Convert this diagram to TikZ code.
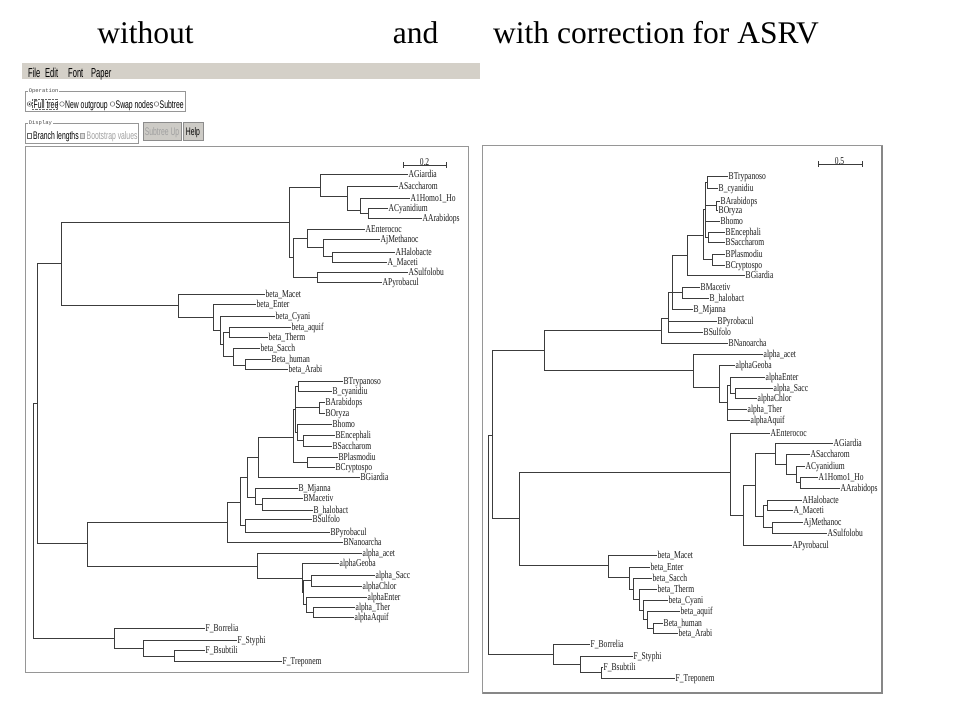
\documentclass[tikz,border=0pt]{standalone}
\usepackage{fontspec}
\setmainfont{Liberation Serif}
\newfontfamily\taxfont[FakeStretch=0.72]{Liberation Serif}
\newfontfamily\guifont[FakeStretch=0.62]{Liberation Sans}
\newfontfamily\menufont[FakeStretch=0.58]{Liberation Sans}
\newfontfamily\boxfont{Liberation Mono}
\definecolor{hbranch}{RGB}{60,60,60}
\definecolor{hframe}{RGB}{150,150,150}
\definecolor{hshadow}{RGB}{135,135,135}
\definecolor{hbar}{RGB}{212,208,200}
\definecolor{hbutton}{RGB}{205,203,198}
\definecolor{hdim}{RGB}{160,160,160}
\tikzset{
  branch/.style={draw=hbranch, line width=0.9pt},
  taxon/.style={anchor=base west, inner sep=0pt, xshift=0.5pt, yshift=-3.5pt, text=black!90, font=\taxfont\fontsize{10.5}{12}\selectfont},
  heading/.style={anchor=base, inner sep=0pt, font=\fontsize{31.5}{36}\selectfont},
  menu/.style={anchor=base west, inner sep=0pt, font=\menufont\fontsize{13}{15}\selectfont},
  gui/.style={anchor=base west, inner sep=0pt, font=\guifont\fontsize{11}{13}\selectfont},
  boxtitle/.style={anchor=west, inner sep=0.6pt, fill=white, text=black!70, font=\boxfont\fontsize{5.5}{6}\selectfont},
  groupbox/.style={draw=hframe, line width=0.8pt},
  radio/.style={draw=black!60, fill=white, line width=0.5pt},
  button/.style={draw=black!45, fill=hbutton, line width=0.6pt},
}
\newcommand{\taxon}[3]{\coordinate (#1) at (#2); \node[taxon] (#1-l) at (#1) {#3};}

\begin{document}
\begin{tikzpicture}[x=1pt, y=-1pt]
\useasboundingbox (0,0) rectangle (960,720);
\fill[white] (0,0) rectangle (960,720);

\node[heading] (tWithout) at (145.5,43) {without};
\node[heading] (tAnd) at (415.5,43) {and};
\node[heading] (tWith) at (656,43) {with correction for ASRV};

% program window
\fill[hbar] (22,63) rectangle (480,79);
\node[menu] (mFile) at (28,77) {File};
\node[menu] (mEdit) at (45,77) {Edit};
\node[menu] (mFont) at (68,77) {Font};
\node[menu] (mPaper) at (91,77) {Paper};

\draw[groupbox] (25,91) rectangle (185,111);
\node[boxtitle] (gOper) at (28,91) {Operation};
\draw[radio] (29.5,104) circle (2.3);
\fill[black!80] (29.5,104) circle (1);
\draw[black!60, line width=0.4pt, densely dotted] (32.5,99) rectangle (57,109.5);
\node[gui] (oFull) at (33.5,108) {Full tree};
\draw[radio] (62,104) circle (2.3);
\node[gui] (oNew) at (65,108) {New outgroup};
\draw[radio] (112.5,104) circle (2.3);
\node[gui] (oSwap) at (115.5,108) {Swap nodes};
\draw[radio] (156.5,104) circle (2.3);
\node[gui] (oSub) at (159.5,108) {Subtree};

\draw[groupbox] (25,123) rectangle (138,143);
\node[boxtitle] (gDisp) at (28,123) {Display};
\draw[radio] (27,133.5) rectangle (31.5,138.5);
\node[gui] (dBranch) at (33,139.5) {Branch lengths};
\draw[draw=hdim, fill=black!15, line width=0.5pt] (80,133.5) rectangle (84.5,138.5);
\node[gui, text=hdim] (dBoot) at (86.5,139.5) {Bootstrap values};

\draw[button] (143,122) rectangle (181,140);
\node[gui, anchor=base, text=hdim] (bSubUp) at (162,135) {Subtree Up};
\draw[button] (183,122) rectangle (203,140);
\node[gui, anchor=base] (bHelp) at (193,135) {Help};

\draw[hframe, line width=0.9pt] (25,146) rectangle (468,672);
\draw[hframe, line width=0.9pt] (482,145) rectangle (882,693);
\draw[hshadow, line width=2pt] (483,693) -- (882,693) -- (882,146);

% left tree
\coordinate (lScaleL) at (403,165);
\coordinate (lScaleR) at (446,165);
\node[taxon, anchor=center, xshift=0pt, yshift=0pt] (lScale) at (424,159) {0.2};
\draw[branch, line width=0.7pt] ([yshift=3pt]lScaleL) -- ([yshift=-3pt]lScaleL) (lScaleL) -- (lScaleR) ([yshift=3pt]lScaleR) -- ([yshift=-3pt]lScaleR);

\coordinate (lRoot) at (33,403);
\coordinate (lTop) at (37,403);
\coordinate (lUp) at (61,263);
\coordinate (lA) at (289,222);
\coordinate (lA1) at (320,187);
\coordinate (lA2) at (347,196);
\coordinate (lA3) at (360,210);
\coordinate (lA4) at (368,213);
\coordinate (lA5) at (293,257);
\coordinate (lA6) at (307,238);
\coordinate (lA7) at (323,247);
\coordinate (lA8) at (332,256);
\coordinate (lA9) at (317,277);
\coordinate (lBeta) at (178,305);
\coordinate (lBeta1) at (213,317);
\coordinate (lBeta2) at (220,330);
\coordinate (lBeta3) at (223,344);
\coordinate (lBeta4) at (229,332);
\coordinate (lBeta5) at (233,356);
\coordinate (lBeta6) at (245,365);
\coordinate (lLow) at (87,543);
\coordinate (lB) at (227,522);
\coordinate (lB1) at (240,502);
\coordinate (lB2) at (247,477);
\coordinate (lB3) at (245,525);
\coordinate (lB4) at (258,457);
\coordinate (lB5) at (255,497);
\coordinate (lB6) at (262,504);
\coordinate (lB7) at (293,437);
\coordinate (lB8) at (295,409);
\coordinate (lB9) at (307,462);
\coordinate (lB10) at (298,386);
\coordinate (lB11) at (319,407);
\coordinate (lB12) at (297,432);
\coordinate (lB13) at (303,440);
\coordinate (lAl) at (257,566);
\coordinate (lAl1) at (302,578);
\coordinate (lAl2) at (303,592);
\coordinate (lAl3) at (311,580);
\coordinate (lAl4) at (306,604);
\coordinate (lAl5) at (313,612);
\coordinate (lF) at (114,638);
\coordinate (lF1) at (143,648);
\coordinate (lF2) at (174,656);

\taxon{lAGia}{408,174}{AGiardia}
\taxon{lASac}{398,186}{ASaccharom}
\taxon{lAHom}{410,198}{A1Homo1\_Ho}
\taxon{lACya}{388,208}{ACyanidium}
\taxon{lAAra}{422,218}{AArabidops}
\taxon{lAEnt}{365,229}{AEnterococ}
\taxon{lAMet}{380,239}{AjMethanoc}
\taxon{lAHal}{395,252}{AHalobacte}
\taxon{lAMac}{387,262}{A\_Maceti}
\taxon{lASul}{408,272}{ASulfolobu}
\taxon{lAPyr}{382,282}{APyrobacul}
\taxon{lbMac}{265,294}{beta\_Macet}
\taxon{lbEnt}{256,304}{beta\_Enter}
\taxon{lbCya}{275,316}{beta\_Cyani}
\taxon{lbAqu}{291,327}{beta\_aquif}
\taxon{lbThe}{268,337}{beta\_Therm}
\taxon{lbSac}{260,348}{beta\_Sacch}
\taxon{lbHum}{271,359}{Beta\_human}
\taxon{lbAra}{288,369}{beta\_Arabi}
\taxon{lBTry}{343,381}{BTrypanoso}
\taxon{lBCya}{332,391}{B\_cyanidiu}
\taxon{lBAra}{325,402}{BArabidops}
\taxon{lBOry}{325,413}{BOryza}
\taxon{lBHom}{332,424}{Bhomo}
\taxon{lBEnc}{335,435}{BEncephali}
\taxon{lBSac}{332,446}{BSaccharom}
\taxon{lBPla}{338,457}{BPlasmodiu}
\taxon{lBCry}{335,467}{BCryptospo}
\taxon{lBGia}{360,477}{BGiardia}
\taxon{lBMja}{298,488}{B\_Mjanna}
\taxon{lBMac}{303,498}{BMacetiv}
\taxon{lBHal}{313,510}{B\_halobact}
\taxon{lBSul}{312,519}{BSulfolo}
\taxon{lBPyr}{330,532}{BPyrobacul}
\taxon{lBNan}{343,542}{BNanoarcha}
\taxon{laAce}{362,553}{alpha\_acet}
\taxon{laGeo}{339,563}{alphaGeoba}
\taxon{laSac}{375,575}{alpha\_Sacc}
\taxon{laChl}{362,586}{alphaChlor}
\taxon{laEnt}{367,597}{alphaEnter}
\taxon{laThe}{355,607}{alpha\_Ther}
\taxon{laAqu}{354,617}{alphaAquif}
\taxon{lFBor}{205,628}{F\_Borrelia}
\taxon{lFSty}{237,640}{F\_Styphi}
\taxon{lFBsu}{205,650}{F\_Bsubtili}
\taxon{lFTre}{282,661}{F\_Treponem}

\draw[branch]
  (lRoot) |- (lTop) (lRoot) |- (lF)
  (lTop) |- (lUp) (lTop) |- (lLow)
  (lUp) |- (lA) (lUp) |- (lBeta)
  (lA) |- (lA1) (lA) |- (lA5)
  (lA1) |- (lAGia) (lA1) |- (lA2)
  (lA2) |- (lASac) (lA2) |- (lA3)
  (lA3) |- (lAHom) (lA3) |- (lA4)
  (lA4) |- (lACya) (lA4) |- (lAAra)
  (lA5) |- (lA6) (lA5) |- (lA9)
  (lA6) |- (lAEnt) (lA6) |- (lA7)
  (lA7) |- (lAMet) (lA7) |- (lA8)
  (lA8) |- (lAHal) (lA8) |- (lAMac)
  (lA9) |- (lASul) (lA9) |- (lAPyr)
  (lBeta) |- (lbMac) (lBeta) |- (lBeta1)
  (lBeta1) |- (lbEnt) (lBeta1) |- (lBeta2)
  (lBeta2) |- (lbCya) (lBeta2) |- (lBeta3)
  (lBeta3) |- (lBeta4) (lBeta3) |- (lBeta5)
  (lBeta4) |- (lbAqu) (lBeta4) |- (lbThe)
  (lBeta5) |- (lbSac) (lBeta5) |- (lBeta6)
  (lBeta6) |- (lbHum) (lBeta6) |- (lbAra)
  (lLow) |- (lB) (lLow) |- (lAl)
  (lB) |- (lB1) (lB) |- (lBNan)
  (lB1) |- (lB2) (lB1) |- (lB3)
  (lB3) |- (lBSul) (lB3) |- (lBPyr)
  (lB2) |- (lB4) (lB2) |- (lB5)
  (lB5) |- (lBMja) (lB5) |- (lB6)
  (lB6) |- (lBMac) (lB6) |- (lBHal)
  (lB4) |- (lB7) (lB4) |- (lBGia)
  (lB7) |- (lB8) (lB7) |- (lB9)
  (lB9) |- (lBPla) (lB9) |- (lBCry)
  (lB8) |- (lB10) (lB8) |- (lB11) (lB8) |- (lB12)
  (lB10) |- (lBTry) (lB10) |- (lBCya)
  (lB11) |- (lBAra) (lB11) |- (lBOry)
  (lB12) |- (lBHom) (lB12) |- (lB13)
  (lB13) |- (lBEnc) (lB13) |- (lBSac)
  (lAl) |- (laAce) (lAl) |- (lAl1)
  (lAl1) |- (laGeo) (lAl1) |- (lAl2)
  (lAl2) |- (lAl3) (lAl2) |- (lAl4)
  (lAl3) |- (laSac) (lAl3) |- (laChl)
  (lAl4) |- (laEnt) (lAl4) |- (lAl5)
  (lAl5) |- (laThe) (lAl5) |- (laAqu)
  (lF) |- (lFBor) (lF) |- (lF1)
  (lF1) |- (lFSty) (lF1) |- (lF2)
  (lF2) |- (lFBsu) (lF2) |- (lFTre);

% right tree
\coordinate (rScaleL) at (818,164);
\coordinate (rScaleR) at (862,164);
\node[taxon, anchor=center, xshift=0pt, yshift=0pt] (rScale) at (839,158) {0.5};
\draw[branch, line width=0.7pt] ([yshift=3pt]rScaleL) -- ([yshift=-3pt]rScaleL) (rScaleL) -- (rScaleR) ([yshift=3pt]rScaleR) -- ([yshift=-3pt]rScaleR);

\coordinate (rRoot) at (488,435);
\coordinate (rTop) at (492,435);
\coordinate (rUp) at (544,350);
\coordinate (rB) at (661,330);
\coordinate (rB1) at (668,318);
\coordinate (rB2) at (672,292);
\coordinate (rB3) at (687,255);
\coordinate (rB4) at (703,235);
\coordinate (rB5) at (705,209);
\coordinate (rB6) at (707,182);
\coordinate (rB7) at (716,205.5);
\coordinate (rB8) at (708,237);
\coordinate (rB9) at (712,259.5);
\coordinate (rB10) at (682,292.5);
\coordinate (rAl) at (693,370);
\coordinate (rAl1) at (719,387);
\coordinate (rAl2) at (727,402);
\coordinate (rAl3) at (730,385);
\coordinate (rAl4) at (735,393);
\coordinate (rLow) at (519,518);
\coordinate (rA) at (730,472);
\coordinate (rA1) at (743,515);
\coordinate (rA2) at (755,485);
\coordinate (rA3) at (775,453);
\coordinate (rA4) at (786,464);
\coordinate (rA5) at (796,474);
\coordinate (rA6) at (800,482);
\coordinate (rA7) at (763,516);
\coordinate (rA8) at (767,505);
\coordinate (rA9) at (772,527);
\coordinate (rBeta) at (608,565);
\coordinate (rBeta1) at (629,577);
\coordinate (rBeta2) at (633,589);
\coordinate (rBeta3) at (639,599);
\coordinate (rBeta4) at (643,610);
\coordinate (rBeta5) at (647,619);
\coordinate (rBeta6) at (653,628);
\coordinate (rF) at (553,654);
\coordinate (rF1) at (580,664);
\coordinate (rF2) at (601,672);

\taxon{rBTry}{728,176}{BTrypanoso}
\taxon{rBCya}{718,188}{B\_cyanidiu}
\taxon{rBAra}{720,201}{BArabidops}
\taxon{rBOry}{718,210}{BOryza}
\taxon{rBHom}{720,221}{Bhomo}
\taxon{rBEnc}{725,232}{BEncephali}
\taxon{rBSac}{725,242}{BSaccharom}
\taxon{rBPla}{725,254}{BPlasmodiu}
\taxon{rBCry}{725,265}{BCryptospo}
\taxon{rBGia}{745,275}{BGiardia}
\taxon{rBMac}{700,287}{BMacetiv}
\taxon{rBHal}{709,298}{B\_halobact}
\taxon{rBMja}{693,309}{B\_Mjanna}
\taxon{rBPyr}{717,321}{BPyrobacul}
\taxon{rBSul}{703,332}{BSulfolo}
\taxon{rBNan}{728,343}{BNanoarcha}
\taxon{raAce}{763,354}{alpha\_acet}
\taxon{raGeo}{735,365}{alphaGeoba}
\taxon{raEnt}{765,377}{alphaEnter}
\taxon{raSac}{773,388}{alpha\_Sacc}
\taxon{raChl}{757,398}{alphaChlor}
\taxon{raThe}{747,409}{alpha\_Ther}
\taxon{raAqu}{750,420}{alphaAquif}
\taxon{rAEnt}{770,433}{AEnterococ}
\taxon{rAGia}{833,443}{AGiardia}
\taxon{rASac}{810,454}{ASaccharom}
\taxon{rACya}{805,466}{ACyanidium}
\taxon{rAHom}{818,477}{A1Homo1\_Ho}
\taxon{rAAra}{840,488}{AArabidops}
\taxon{rAHal}{802,500}{AHalobacte}
\taxon{rAMac}{793,510}{A\_Maceti}
\taxon{rAMet}{803,522}{AjMethanoc}
\taxon{rASul}{827,533}{ASulfolobu}
\taxon{rAPyr}{792,545}{APyrobacul}
\taxon{rbMac}{657,555}{beta\_Macet}
\taxon{rbEnt}{650,567}{beta\_Enter}
\taxon{rbSac}{652,578}{beta\_Sacch}
\taxon{rbThe}{657,589}{beta\_Therm}
\taxon{rbCya}{668,600}{beta\_Cyani}
\taxon{rbAqu}{680,611}{beta\_aquif}
\taxon{rbHum}{663,623}{Beta\_human}
\taxon{rbAra}{678,633}{beta\_Arabi}
\taxon{rFBor}{590,644}{F\_Borrelia}
\taxon{rFSty}{633,656}{F\_Styphi}
\taxon{rFBsu}{603,667}{F\_Bsubtili}
\taxon{rFTre}{675,678}{F\_Treponem}

\draw[branch]
  (rRoot) |- (rTop) (rRoot) |- (rF)
  (rTop) |- (rUp) (rTop) |- (rLow)
  (rUp) |- (rB) (rUp) |- (rAl)
  (rB) |- (rB1) (rB) |- (rBNan)
  (rB1) |- (rB2) (rB1) |- (rBPyr) (rB1) |- (rBSul)
  (rB2) |- (rB3) (rB2) |- (rB10) (rB2) |- (rBMja)
  (rB10) |- (rBMac) (rB10) |- (rBHal)
  (rB3) |- (rB4) (rB3) |- (rBGia)
  (rB4) |- (rB5) (rB4) |- (rB9)
  (rB5) |- (rB6) (rB5) |- (rB7) (rB5) |- (rBHom) (rB5) |- (rB8)
  (rB6) |- (rBTry) (rB6) |- (rBCya)
  (rB7) |- (rBAra) (rB7) |- (rBOry)
  (rB8) |- (rBEnc) (rB8) |- (rBSac)
  (rB9) |- (rBPla) (rB9) |- (rBCry)
  (rAl) |- (raAce) (rAl) |- (rAl1)
  (rAl1) |- (raGeo) (rAl1) |- (rAl2)
  (rAl2) |- (rAl3) (rAl2) |- (raThe) (rAl2) |- (raAqu)
  (rAl3) |- (raEnt) (rAl3) |- (rAl4)
  (rAl4) |- (raSac) (rAl4) |- (raChl)
  (rLow) |- (rA) (rLow) |- (rBeta)
  (rA) |- (rAEnt) (rA) |- (rA1)
  (rA1) |- (rA2) (rA1) |- (rAPyr)
  (rA2) |- (rA3) (rA2) |- (rA7)
  (rA3) |- (rAGia) (rA3) |- (rA4)
  (rA4) |- (rASac) (rA4) |- (rA5)
  (rA5) |- (rACya) (rA5) |- (rA6)
  (rA6) |- (rAHom) (rA6) |- (rAAra)
  (rA7) |- (rA8) (rA7) |- (rA9)
  (rA8) |- (rAHal) (rA8) |- (rAMac)
  (rA9) |- (rAMet) (rA9) |- (rASul)
  (rBeta) |- (rbMac) (rBeta) |- (rBeta1)
  (rBeta1) |- (rbEnt) (rBeta1) |- (rBeta2)
  (rBeta2) |- (rbSac) (rBeta2) |- (rBeta3)
  (rBeta3) |- (rbThe) (rBeta3) |- (rBeta4)
  (rBeta4) |- (rbCya) (rBeta4) |- (rBeta5)
  (rBeta5) |- (rbAqu) (rBeta5) |- (rBeta6)
  (rBeta6) |- (rbHum) (rBeta6) |- (rbAra)
  (rF) |- (rFBor) (rF) |- (rF1)
  (rF1) |- (rFSty) (rF1) |- (rF2)
  (rF2) |- (rFBsu) (rF2) |- (rFTre);
\end{tikzpicture}
\end{document}
